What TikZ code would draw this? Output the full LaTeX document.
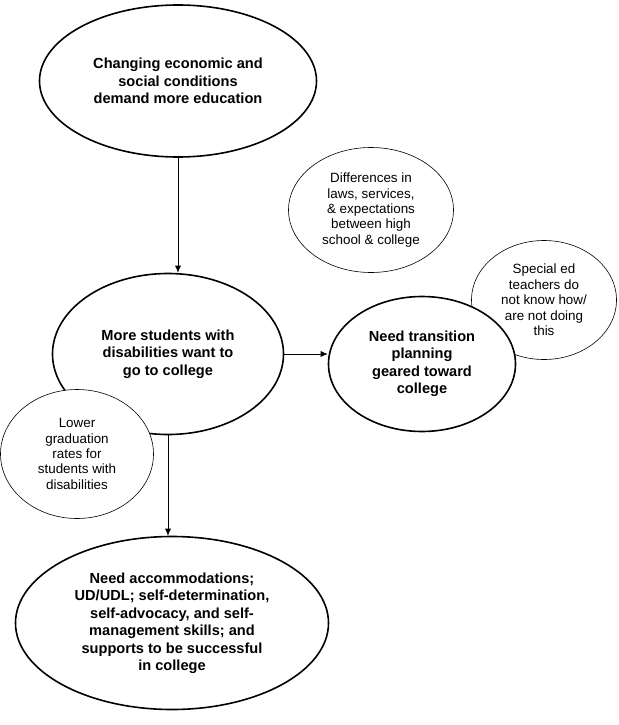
\documentclass[tikz,border=0pt]{standalone}
\usepackage{fontspec}
\setmainfont{Liberation Sans}
\usetikzlibrary{arrows.meta,positioning,shapes.geometric}

\begin{document}
\begin{tikzpicture}[x=1pt, y=-1pt,
          every node/.style={align=center},
          big/.style={ellipse, draw, line width=1.6pt, fill=white, inner sep=0pt,
                      font=\fontsize{14.6}{17.5}\selectfont\bfseries},
          note/.style={ellipse, draw, line width=0.6pt, fill=white, inner sep=0pt,
                       font=\fontsize{13.4}{15.4}\selectfont},
          arr/.style={-{Latex[length=7pt,width=6pt]}, line width=0.7pt},
        ]
          \useasboundingbox (0,0) rectangle (618,725);
          % side notes that sit behind the main ellipses
          \node[note, minimum width=165pt, minimum height=125pt] (diff)  at (371,210) {Differences in\\laws, services,\\\& expectations\\between high\\school \& college};
          \node[note, minimum width=145pt, minimum height=119pt] (teach) at (544,300) {Special ed\\teachers do\\not know how/\\are not doing\\this};
          % main chain
          \node[big, minimum width=277pt, minimum height=152pt] (econ) at (178,81)  {Changing economic and\\social conditions\\demand more education};
          \node[big, minimum width=187pt, minimum height=135pt] (plan) at (422,364) {Need transition\\planning\\geared toward\\college};
          \node[big, minimum width=231pt, minimum height=161pt] (want) at (168,354) {More students with\\disabilities want to\\go to college};
          \node[note, minimum width=153pt, minimum height=129pt] (grad) at (77,454) {Lower\\graduation\\rates for\\students with\\disabilities};
          \node[big, minimum width=313pt, minimum height=173pt] (need) at (172,623) {Need accommodations;\\UD/UDL; self-determination,\\self-advocacy, and self-\\management skills; and\\supports to be successful\\in college};
          \draw[arr] (econ.south) -- (econ.south |- want.north);
          \draw[arr] (want.east)  -- (want.east -| plan.west);
          \draw[arr] (want.south) -- (want.south |- need.north);
        \end{tikzpicture}
\end{document}
